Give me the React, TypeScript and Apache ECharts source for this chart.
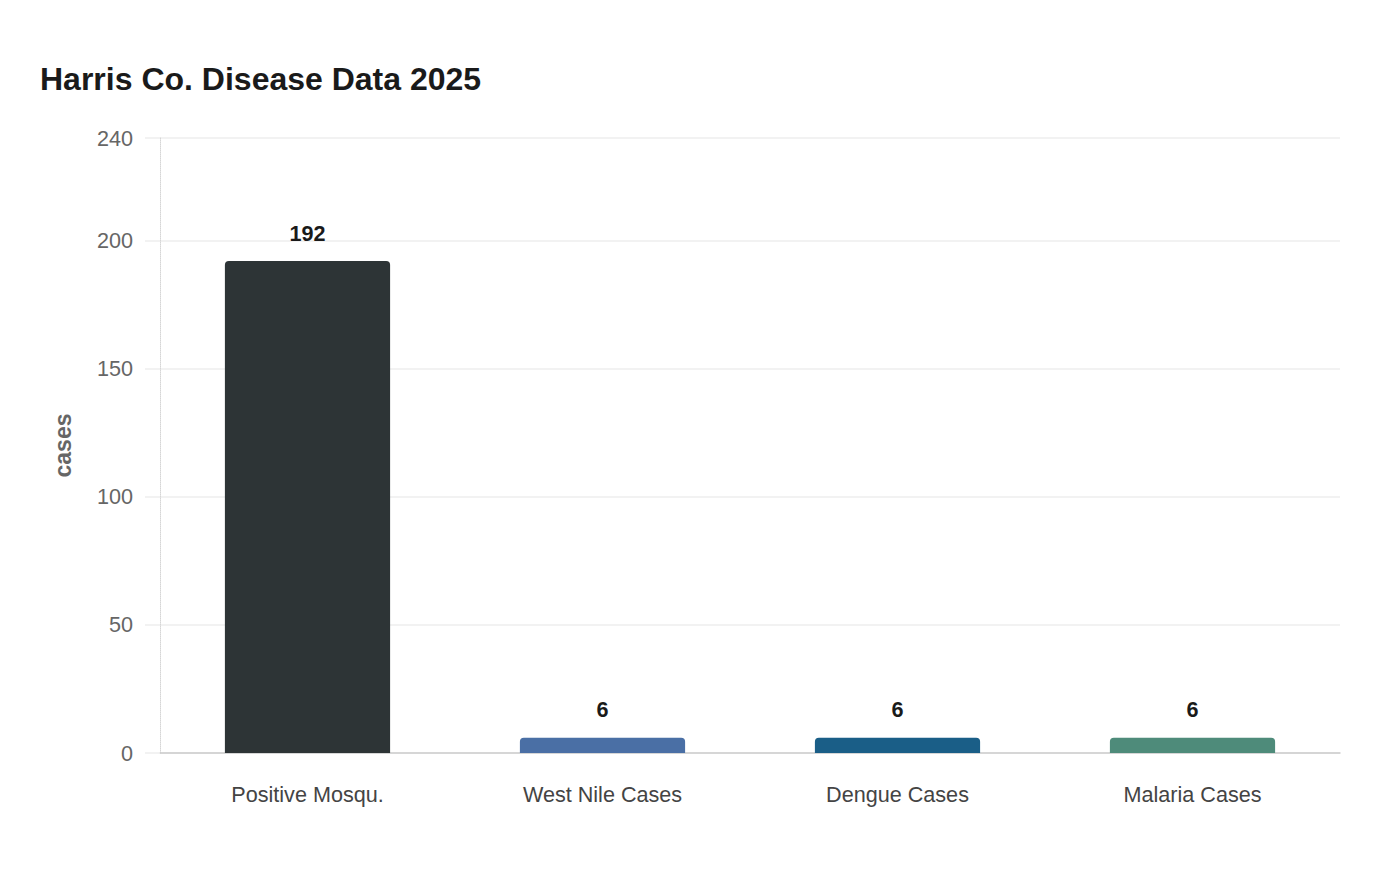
import * as echarts from "echarts"
import { useEffect, useRef } from "react"

const categories = ["Positive Mosqu.", "West Nile Cases", "Dengue Cases", "Malaria Cases"]
const values = [192, 6, 6, 6]
const barColors = ["#2d3436", "#4a6fa5", "#1a5e87", "#4e8b7a"]

const FONT = "'Liberation Sans', Arial, sans-serif"

export default function App(): React.ReactElement {
  const ref = useRef<HTMLDivElement>(null)

  useEffect(() => {
    document.body.style.margin = "0"
    const node = ref.current
    if (!node) return
    const chart = echarts.init(node, undefined, { renderer: "svg" })

    chart.setOption({
      animation: false,
      backgroundColor: "#ffffff",
      textStyle: { fontFamily: FONT },
      title: {
        text: "Harris Co. Disease Data 2025",
        left: 35,
        top: 58,
        textStyle: { fontSize: 32, fontWeight: "bold", color: "#1a1a1a", fontFamily: FONT },
      },
      grid: { left: 160, right: 60, top: 138, bottom: 127 },
      xAxis: {
        type: "category",
        data: categories,
        axisLine: { lineStyle: { color: "#cccccc", width: 1.5 } },
        axisTick: { show: false },
        axisLabel: { fontSize: 21.6, color: "#444444", margin: 30, fontFamily: FONT },
      },
      yAxis: {
        type: "value",
        min: 0,
        max: 240,
        interval: 50,
        name: "cases",
        nameLocation: "middle",
        nameGap: 86,
        nameTextStyle: { fontSize: 23, fontWeight: "bold", color: "#666666", fontFamily: FONT },
        axisLine: { show: true, lineStyle: { color: "#d6d6d6", type: "dotted" } },
        axisTick: { show: true, length: 15, lineStyle: { color: "#eeeeee", width: 1.5 } },
        axisLabel: { fontSize: 21.6, color: "#666666", margin: 27, fontFamily: FONT },
        splitLine: { lineStyle: { color: "#eeeeee", width: 1.5 } },
      },
      series: [
        {
          type: "bar",
          barWidth: "56%",
          data: values.map((v, i) => ({ value: v, itemStyle: { color: barColors[i] } })),
          itemStyle: { borderRadius: [4, 4, 0, 0] },
          label: {
            show: true,
            position: "top",
            distance: 17,
            fontSize: 21.6,
            fontWeight: "bold",
            color: "#1a1a1a",
            fontFamily: FONT,
          },
        },
      ],
    })

    return () => chart.dispose()
  }, [])

  return <div ref={ref} style={{ width: 1400, height: 880 }} />
}
